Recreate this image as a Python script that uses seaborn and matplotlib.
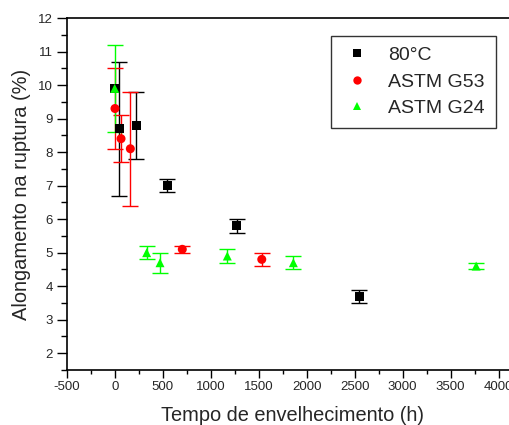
import pandas as pd
import seaborn as sns
import matplotlib.pyplot as plt
from matplotlib.ticker import MultipleLocator
from matplotlib.lines import Line2D

# Dados: tempo (h), alongamento (%) e erro
series = ['80°C', 'ASTM G53', 'ASTM G24']

tempo_80c = [0, 48, 222, 545, 1271, 2546]
along_80c = [9.9, 8.7, 8.8, 7.0, 5.8, 3.7]
erro_80c = [0.0, 2.0, 1.0, 0.2, 0.2, 0.2]

tempo_g53 = [3, 66, 163, 704, 1532]
along_g53 = [9.3, 8.4, 8.1, 5.1, 4.8]
erro_g53 = [1.2, 0.7, 1.7, 0.1, 0.2]

tempo_g24 = [0, 333, 472, 1173, 1861, 3765]
along_g24 = [9.9, 5.0, 4.7, 4.9, 4.7, 4.6]
erro_g24 = [1.3, 0.2, 0.3, 0.2, 0.2, 0.1]

cores = {'80°C': '#000000', 'ASTM G53': '#ff0000', 'ASTM G24': '#00ff00'}
marcadores = {'80°C': 's', 'ASTM G53': 'o', 'ASTM G24': '^'}

df = pd.concat([
    pd.DataFrame({'tempo': tempo_80c, 'along': along_80c, 'erro': erro_80c, 'serie': '80°C'}),
    pd.DataFrame({'tempo': tempo_g53, 'along': along_g53, 'erro': erro_g53, 'serie': 'ASTM G53'}),
    pd.DataFrame({'tempo': tempo_g24, 'along': along_g24, 'erro': erro_g24, 'serie': 'ASTM G24'}),
], ignore_index=True)

sns.set_style('ticks')
plt.rcParams['font.family'] = ['Liberation Sans', 'DejaVu Sans']
plt.rcParams['axes.unicode_minus'] = False

fig = plt.figure(figsize=(5.1, 4.25), dpi=100)
ax = fig.add_axes([66.7 / 510, 1 - 370 / 425, 451.2 / 510, 352 / 425])

# barras de erro
for s in series:
    d = df[(df['serie'] == s) & (df['erro'] > 0)]
    ax.errorbar(d['tempo'], d['along'], yerr=d['erro'], fmt='none',
                ecolor=cores[s], elinewidth=1, capsize=5.5, capthick=1, zorder=2)

sns.scatterplot(data=df, x='tempo', y='along', hue='serie', style='serie',
                palette=cores, markers=marcadores, s=42, linewidth=0,
                legend=False, ax=ax, zorder=3)

ax.set_xlim(-500, 4200)
ax.set_ylim(1.5, 12)
ax.xaxis.set_major_locator(MultipleLocator(500))
ax.xaxis.set_minor_locator(MultipleLocator(250))
ax.yaxis.set_major_locator(MultipleLocator(1))
ax.yaxis.set_minor_locator(MultipleLocator(0.5))
ax.tick_params(axis='both', which='major', direction='out', labelsize=9.5, width=1, color='black')
ax.tick_params(axis='both', which='minor', direction='out', width=1, color='black')
ax.tick_params(axis='y', which='major', length=7, pad=3)
ax.tick_params(axis='y', which='minor', length=4)
ax.tick_params(axis='x', which='major', length=6, pad=2)
ax.tick_params(axis='x', which='minor', length=3)
for sp in ax.spines.values():
    sp.set_visible(True)
    sp.set_linewidth(1.2)
    sp.set_color('black')

ax.set_xlabel('Tempo de envelhecimento (h)', fontsize=14.4, labelpad=9)
ax.set_ylabel('Alongamento na ruptura (%)', fontsize=14.4, labelpad=5)

handles = [Line2D([], [], marker=marcadores[s], color=cores[s], linestyle='none',
                  markersize=6, markeredgewidth=0) for s in series]
leg = ax.legend(handles, series, loc='upper left', bbox_to_anchor=(0.586, 0.949),
                borderaxespad=0, fontsize=14, frameon=True, fancybox=False,
                edgecolor='black', labelspacing=0.45, handletextpad=0.8,
                borderpad=0.55, handlelength=1.6)
leg.get_frame().set_linewidth(1)

plt.savefig('out.png', dpi=100)
